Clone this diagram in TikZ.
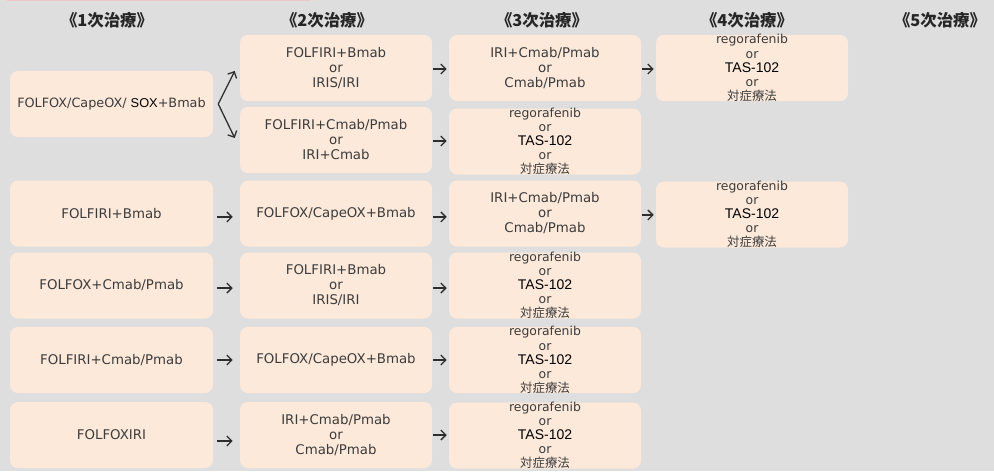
\documentclass[tikz,border=0pt]{standalone}
\usepackage{fontspec}
\setmainfont{DejaVu Sans}
\newfontfamily\arialfont{Liberation Sans}
\newfontfamily\jpfont{Noto Sans CJK JP}
\usetikzlibrary{arrows.meta,positioning}
\definecolor{canvasgray}{RGB}{222,222,222}
\definecolor{peach}{RGB}{252,233,218}
\definecolor{inkgray}{RGB}{60,60,60}
\definecolor{arrowgray}{RGB}{45,45,45}
\definecolor{topline}{RGB}{236,200,200}
\newcommand{\tas}{{\arialfont\fontsize{10.5}{10.5}\selectfont\color{black}TAS-102}}
\newcommand{\sox}{{\arialfont\color{black}SOX}}
\newcommand{\bsc}{{\jpfont 対症療法}}
\newcommand{\laterline}{regorafenib\\or\\\tas\\or\\\bsc}
\tikzset{
  regimen/.style={rounded corners=6pt, fill=peach, minimum width=144pt, minimum height=49.5pt,
    inner sep=1pt, align=center, text=inkgray, font=\fontsize{10}{11.25}\selectfont},
  firstline/.style={regimen, minimum width=152.25pt},
  latertext/.style={align=center, text=inkgray, inner sep=0pt, font=\fontsize{9.3}{10.6}\selectfont},
  laterbox/.style={regimen, label={[latertext]center:\laterline}},
  header/.style={font=\jpfont\bfseries\fontsize{12.3}{14}\selectfont, text=black!85},
  flow/.style={-{Straight Barb[length=3.75pt,width=7.5pt]}, line width=0.95pt, draw=arrowgray,
    shorten <=0.75pt, shorten >=1.5pt},
  firstflow/.style={flow, shorten <=3pt, shorten >=5.25pt}
}

\begin{document}
\begin{tikzpicture}[x=0.75pt, y=-0.75pt]
\fill[canvasgray] (0,0) rectangle (994,471);
\useasboundingbox (0,0) rectangle (994,471);
\draw[topline, line width=1pt] (7,0.6) -- (310,0.6);

% line headers
\node[header] (h1) at (107,20) {《1次治療》};
\node[header] (h2) at (327,20) {《2次治療》};
\node[header] (h3) at (542,20) {《3次治療》};
\node[header] (h4) at (747,20) {《4次治療》};
\node[header] (h5) at (940,20) {《5次治療》};

% row 1
\node[firstline, font=\fontsize{9.6}{11}\selectfont] (a1) at (111.5,104) {FOLFOX/CapeOX/ \sox+Bmab};
\node[regimen] (b1) at (336,68) {FOLFIRI+Bmab\\or\\IRIS/IRI};
\node[regimen] (b1x) at (336,140) {FOLFIRI+Cmab/Pmab\\or\\IRI+Cmab};
\node[regimen] (c1) at (545,68) {IRI+Cmab/Pmab\\or\\Cmab/Pmab};
\node[laterbox] (c1x) at (545,141.5) {};
\node[laterbox] (d1) at (752,68) {};

% row 2
\node[firstline] (a2) at (111.5,213.5) {FOLFIRI+Bmab};
\node[regimen] (b2) at (336,213.5) {FOLFOX/CapeOX+Bmab};
\node[regimen] (c2) at (545,213.5) {IRI+Cmab/Pmab\\or\\Cmab/Pmab};
\node[laterbox] (d2) at (752,214.5) {};

% row 3
\node[firstline] (a3) at (111.5,285.5) {FOLFOX+Cmab/Pmab};
\node[regimen] (b3) at (336,285.5) {FOLFIRI+Bmab\\or\\IRIS/IRI};
\node[laterbox] (c3) at (545,285.5) {};

% row 4
\node[firstline] (a4) at (111.5,360) {FOLFIRI+Cmab/Pmab};
\node[regimen] (b4) at (336,360) {FOLFOX/CapeOX+Bmab};
\node[laterbox] (c4) at (545,360) {};

% row 5
\node[firstline] (a5) at (111.5,435) {FOLFOXIRI};
\node[regimen] (b5) at (336,435) {IRI+Cmab/Pmab\\or\\Cmab/Pmab};
\node[laterbox] (c5) at (545,435.5) {};

% arrows
\draw[flow, shorten <=0pt, shorten >=0pt] ([xshift=3.75pt]a1.east) -- ([xshift=-3.75pt,yshift=-2.25pt]b1.west);
\draw[flow, shorten <=0pt, shorten >=0pt] ([xshift=3.75pt]a1.east) -- ([xshift=-3.75pt,yshift=1.5pt]b1x.west);
\draw[flow] ([yshift=-0.75pt]b1.east) -- ([yshift=-0.75pt]c1.west);
\draw[flow] ([yshift=-0.75pt]b1x.east) -- ([yshift=-0.75pt]b1x.east -| c1x.west);
\draw[flow] ([yshift=-0.75pt]c1.east) -- ([yshift=-0.75pt]d1.west);

\draw[firstflow] ([yshift=-2.6pt]a2.east) -- ([yshift=-2.6pt]b2.west);
\draw[flow] ([yshift=-2.6pt]b2.east) -- ([yshift=-2.6pt]c2.west);
\draw[flow] ([yshift=-1.1pt]c2.east) -- ([yshift=-1.1pt]c2.east -| d2.west);

\draw[firstflow] ([yshift=-1.9pt]a3.east) -- ([yshift=-1.9pt]b3.west);
\draw[flow] ([yshift=-1.9pt]b3.east) -- ([yshift=-1.9pt]c3.west);

\draw[firstflow] (a4) -- (b4);
\draw[flow] (b4) -- (c4);

\draw[firstflow] ([yshift=-4.5pt]a5.east) -- ([yshift=-4.5pt]b5.west);
\draw[flow] (b5.east) -- (b5.east -| c5.west);
\end{tikzpicture}
\end{document}
